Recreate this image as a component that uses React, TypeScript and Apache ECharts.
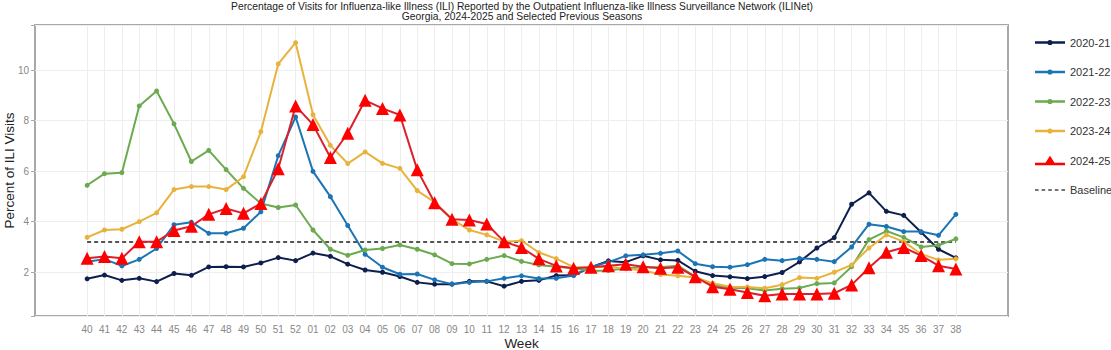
import React, { useEffect, useRef } from "react";
import * as echarts from "echarts";

const TITLE_LINE_1 =
  "Percentage of Visits for Influenza-like Illness (ILI) Reported by the Outpatient Influenza-like Illness Surveillance Network (ILINet)";
const TITLE_LINE_2 = "Georgia, 2024-2025 and Selected Previous Seasons";

const WEEKS = [
  "40", "41", "42", "43", "44", "45", "46", "47", "48", "49", "50", "51", "52",
  "01", "02", "03", "04", "05", "06", "07", "08", "09", "10", "11", "12", "13",
  "14", "15", "16", "17", "18", "19", "20", "21", "22", "23", "24", "25", "26",
  "27", "28", "29", "30", "31", "32", "33", "34", "35", "36", "37", "38",
];

const S2020_21 = [
  1.74, 1.89, 1.68, 1.76, 1.63, 1.95, 1.88, 2.21, 2.22, 2.21, 2.37, 2.58, 2.46,
  2.76, 2.63, 2.32, 2.09, 2.0, 1.83, 1.6, 1.53, 1.53, 1.64, 1.64, 1.45, 1.64,
  1.68, 1.87, 1.88, 2.2, 2.45, 2.4, 2.65, 2.49, 2.47, 2.04, 1.87, 1.82, 1.75,
  1.83, 1.99, 2.41, 2.96, 3.37, 4.69, 5.14, 4.41, 4.25, 3.58, 2.91, 2.57,
];

const S2021_22 = [
  2.42, 2.52, 2.25, 2.51, 2.94, 3.88, 3.98, 3.54, 3.54, 3.74, 4.39, 6.61, 8.14,
  5.99, 4.99, 3.85, 2.71, 2.2, 1.92, 1.93, 1.7, 1.53, 1.6, 1.64, 1.76, 1.86,
  1.75, 1.76, 1.87, 2.21, 2.4, 2.65, 2.69, 2.75, 2.84, 2.34, 2.22, 2.2, 2.3,
  2.51, 2.46, 2.55, 2.51, 2.42, 3.0, 3.9, 3.81, 3.61, 3.61, 3.46, 4.29,
];

const S2022_23 = [
  5.44, 5.9, 5.94, 8.58, 9.17, 7.87, 6.38, 6.82, 6.06, 5.32, 4.72, 4.56, 4.66,
  3.67, 2.91, 2.67, 2.88, 2.94, 3.08, 2.91, 2.69, 2.34, 2.33, 2.51, 2.66, 2.43,
  2.29, 2.22, 2.16, 2.05, 2.07, 2.16, 2.2, 2.2, 2.26, 1.83, 1.5, 1.39, 1.37,
  1.28, 1.35, 1.38, 1.55, 1.58, 2.22, 3.29, 3.63, 3.38, 3.0, 3.07, 3.32,
];

const S2023_24 = [
  3.38, 3.67, 3.7, 4.0, 4.35, 5.27, 5.39, 5.39, 5.27, 5.78, 7.56, 10.24, 11.08,
  8.23, 7.02, 6.3, 6.76, 6.31, 6.11, 5.23, 4.77, 4.1, 3.67, 3.48, 3.21, 3.25,
  2.78, 2.54, 2.2, 2.2, 2.22, 2.14, 2.08, 1.91, 1.86, 1.79, 1.57, 1.43, 1.42,
  1.37, 1.51, 1.79, 1.76, 2.0, 2.29, 2.96, 3.48, 3.21, 2.72, 2.49, 2.53,
];

const S2024_25 = [
  2.55, 2.62, 2.55, 3.21, 3.21, 3.65, 3.82, 4.29, 4.52, 4.33, 4.72, 6.09, 8.58,
  7.84, 6.54, 7.5, 8.8, 8.48, 8.22, 6.05, 4.75, 4.1, 4.07, 3.91, 3.21, 2.98,
  2.53, 2.25, 2.16, 2.2, 2.26, 2.32, 2.22, 2.16, 2.2, 1.82, 1.43, 1.33, 1.2,
  1.07, 1.14, 1.14, 1.14, 1.17, 1.5, 2.18, 2.79, 2.98, 2.66, 2.26, 2.13,
];

const BASELINE = 3.2;

const SEASONS = ["2020-21", "2021-22", "2022-23", "2023-24", "2024-25"];
const BASELINE_NAME = "Baseline";

const PAD_LEFT = ["p1", "p2", "p3"];
const PAD_RIGHT = ["q1", "q2", "q3"];

const ICON_DOT =
  "path://M0,5H12.8V7.5H0Z M17.2,5H30V7.5H17.2Z M12.4,6.25a2.6,2.6 0 1,1 5.2,0a2.6,2.6 0 1,1 -5.2,0Z";
const ICON_TRI = "path://M0,9L10.5,9L15,2L19.5,9L30,9L30,11.5L0,11.5Z";
const ICON_DASH =
  "path://M0,5H3.5V6.5H0Z M6.5,5H10V6.5H6.5Z M13,5H16.5V6.5H13Z M19.5,5H23V6.5H19.5Z M26,5H29.5V6.5H26Z";

export default function App() {
  const ref = useRef<HTMLDivElement>(null);

  useEffect(() => {
    if (!ref.current) return;
    const chart = echarts.init(ref.current, undefined, { renderer: "svg" });
    const categories = [...PAD_LEFT, ...WEEKS, ...PAD_RIGHT];
    const isWeek = (v: string) => WEEKS.indexOf(v) >= 0;
    const pad = (arr: (number | null)[]) => [
      ...PAD_LEFT.map(() => null),
      ...arr,
      ...PAD_RIGHT.map(() => null),
    ];

    const lineSeries = (
      name: string,
      data: number[],
      color: string,
      extra: any = {}
    ) => ({
      name,
      type: "line",
      data: pad(data),
      symbol: "circle",
      symbolSize: 5,
      showSymbol: true,
      lineStyle: { color, width: 2 },
      itemStyle: { color, borderWidth: 0 },
      emphasis: { disabled: true },
      ...extra,
    });

    const fontFamily = "'Liberation Sans', Arial, sans-serif";

    chart.setOption({
      animation: false,
      textStyle: { fontFamily },
      graphic: [
        {
          type: "text",
          x: 522,
          y: 6,
          silent: true,
          style: {
            text: TITLE_LINE_1,
            textAlign: "center",
            textVerticalAlign: "middle",
            fontSize: 10.3,
            fontFamily,
            fill: "#222",
          },
        },
        {
          type: "text",
          x: 522,
          y: 16.5,
          silent: true,
          style: {
            text: TITLE_LINE_2,
            textAlign: "center",
            textVerticalAlign: "middle",
            fontSize: 10.3,
            fontFamily,
            fill: "#222",
          },
        },
      ],
      legend: {
        orient: "vertical",
        left: 1030,
        top: 32,
        itemWidth: 30,
        itemHeight: 12,
        itemGap: 18.5,
        itemStyle: { borderWidth: 0 },
        data: [
          { name: SEASONS[0], icon: ICON_DOT },
          { name: SEASONS[1], icon: ICON_DOT },
          { name: SEASONS[2], icon: ICON_DOT },
          { name: SEASONS[3], icon: ICON_DOT },
          { name: SEASONS[4], icon: ICON_TRI },
          { name: BASELINE_NAME, icon: ICON_DASH },
        ],
        textStyle: { fontSize: 11, color: "#333", fontFamily },
      },
      grid: {
        left: 35,
        right: 103,
        top: 25,
        bottom: 34,
        show: true,
        borderColor: "#a8a8a8",
        borderWidth: 2,
        containLabel: false,
        outerBoundsMode: "none",
      },
      xAxis: {
        type: "category",
        data: categories,
        boundaryGap: false,
        name: "Week",
        nameLocation: "middle",
        nameGap: 20,
        nameMoveOverlap: false,
        nameTextStyle: { fontSize: 13.5, color: "#222", fontFamily },
        axisLine: { show: false },
        axisTick: { show: false },
        axisLabel: {
          interval: 0,
          color: "#888",
          fontSize: 10,
          margin: 8,
          formatter: (v: string) => (isWeek(v) ? v : ""),
        },
        splitLine: {
          show: true,
          interval: (_i: number, v: string) => isWeek(v),
          lineStyle: { color: "#eeeeee", width: 1 },
        },
      },
      yAxis: {
        type: "value",
        min: 0.27,
        max: 11.78,
        splitNumber: 5,
        name: "Percent of ILI Visits",
        nameLocation: "middle",
        nameGap: 19,
        nameMoveOverlap: false,
        nameTextStyle: { fontSize: 13.5, color: "#222", fontFamily },
        axisLine: { show: false },
        axisTick: {
          show: true,
          length: 4,
          lineStyle: { color: "#aaa", width: 1 },
        },
        axisLabel: {
          color: "#888",
          fontSize: 10,
          margin: 6,
          formatter: (v: number) => {
            const r = Math.round(v);
            return Math.abs(v - r) < 1e-6 && r % 2 === 0 && r > 0 ? String(r) : "";
          },
        },
        splitLine: { show: true, lineStyle: { color: "#eeeeee", width: 1 } },
      },
      series: [
        lineSeries(SEASONS[0], S2020_21, "#0d1f4d"),
        lineSeries(SEASONS[1], S2021_22, "#1b75b5"),
        lineSeries(SEASONS[2], S2022_23, "#6caa50"),
        lineSeries(SEASONS[3], S2023_24, "#e8b33c"),
        {
          name: BASELINE_NAME,
          type: "line",
          data: pad(WEEKS.map(() => BASELINE)),
          symbol: "none",
          lineStyle: { color: "#555", width: 2, type: [4, 3] },
          itemStyle: { color: "#444", borderWidth: 0 },
          emphasis: { disabled: true },
          z: 1,
        },
        lineSeries(SEASONS[4], S2024_25, "#ff0000", {
          symbol: "triangle",
          symbolSize: 13,
          lineStyle: { color: "#dd1f2b", width: 2 },
          itemStyle: { color: "#ff0000", borderWidth: 0 },
          z: 5,
        }),
      ],
    });
    return () => chart.dispose();
  }, []);

  return (
    <div
      ref={ref}
      style={{ position: "absolute", left: 0, top: 0, width: 1111, height: 350, background: "#fff" }}
    />
  );
}
